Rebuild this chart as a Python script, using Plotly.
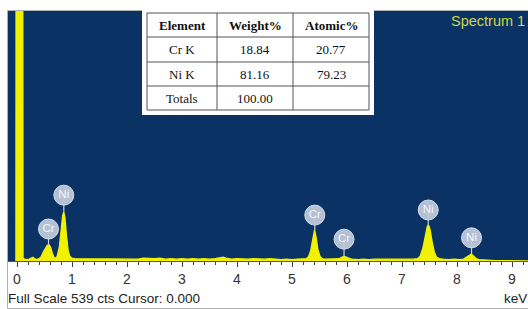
import plotly.graph_objects as go

# ---------------- data ----------------
energy_kev = [
    -0.02, -0.015, 0.025, 0.03, 0.05, 0.055, 0.10, 0.11,
    0.14, 0.18, 0.22, 0.26, 0.29, 0.32, 0.36, 0.40, 0.44, 0.48, 0.52, 0.55, 0.58,
    0.61, 0.64, 0.67, 0.70, 0.73, 0.77, 0.80, 0.83, 0.85, 0.87, 0.90, 0.93, 0.96,
    1.00, 1.05,
    1.1, 1.2, 1.3, 1.4, 1.5, 1.6, 1.7, 1.8, 1.9, 2.0, 2.1, 2.2, 2.3, 2.4, 2.5,
    2.6, 2.7, 2.8, 2.9, 3.0, 3.1, 3.2, 3.3, 3.4, 3.5, 3.6, 3.7, 3.75, 3.8, 3.9,
    4.0, 4.1, 4.2, 4.3, 4.4, 4.5, 4.6, 4.7, 4.8, 4.9, 5.0, 5.1, 5.2,
    5.26, 5.30, 5.34, 5.38, 5.41, 5.44, 5.47, 5.51, 5.55, 5.60,
    5.70, 5.80, 5.86, 5.90, 5.95, 6.00, 6.05, 6.10,
    6.2, 6.3, 6.4, 6.5, 6.6, 6.7, 6.8, 6.9, 7.0, 7.1, 7.2,
    7.28, 7.33, 7.38, 7.42, 7.46, 7.48, 7.51, 7.55, 7.59, 7.63, 7.68, 7.75,
    7.85, 7.95, 8.05,
    8.12, 8.17, 8.22, 8.26, 8.30, 8.35, 8.40,
    8.5, 8.7, 8.9, 9.1, 9.3,
]
counts = [
    0, 1200, 1200, 0, 0, 1200, 1200, 6,
    4, 3, 4, 6, 8, 5, 3, 5, 9, 20, 30, 34, 35,
    30, 18, 8, 6, 10, 30, 65, 98, 106, 95, 55, 22, 10,
    6, 5,
    5, 4, 5, 4, 5, 4, 5, 5, 4, 5, 5, 4, 6, 5, 5,
    6, 4, 5, 4, 5, 4, 5, 4, 5, 4, 5, 6, 8, 6, 4,
    5, 4, 4, 5, 4, 4, 5, 4, 3, 4, 3, 4, 4,
    5, 9, 22, 48, 67, 50, 25, 10, 5, 4,
    4, 4, 5, 8, 10, 8, 5, 4,
    3, 4, 3, 4, 4, 3, 4, 3, 4, 3, 4,
    5, 10, 28, 55, 75, 78, 68, 40, 18, 8, 5, 4,
    3, 4, 3,
    4, 8, 13, 15, 11, 5, 3,
    2, 1, 1, 0, 0,
]

peak_labels = ["Cr", "Ni", "Cr", "Cr", "Ni", "Ni"]
peak_kev = [0.573, 0.851, 5.414, 5.946, 7.477, 8.264]
peak_top_cts = [35, 106, 67, 10, 78, 15]
label_cts = [69, 142, 99, 47, 110, 50]

table_header = ["Element", "Weight%", "Atomic%"]
table_rows = [
    ["Cr K", "18.84", "20.77"],
    ["Ni K", "81.16", "79.23"],
    ["Totals", "100.00", ""],
]

spectrum_title = "Spectrum 1"
full_scale_cts = 539
cursor_kev = 0.000
x_ticks = list(range(10))

# ---------------- layout geometry (reference pixels) ----------------
W, H = 528, 309
PLOT_L, PLOT_R, PLOT_T, PLOT_B = 8, 528, 11, 261
ML, MR, MT, MB = PLOT_L, W - PLOT_R, PLOT_T, H - PLOT_B
PW = PLOT_R - PLOT_L
PH = PLOT_B - PLOT_T
X0_PX, PX_PER_KEV = 17.0, 55.0


def px_x(px):
    return (px - PLOT_L) / PW


def px_y(py):
    return (PLOT_B - py) / PH


BLUE = "#0a3265"
YELLOW = "#f2f200"

fig = go.Figure()

fig.add_trace(go.Scatter(
    x=energy_kev, y=counts, mode="lines", fill="tozeroy",
    line=dict(color=YELLOW, width=1.3), fillcolor=YELLOW,
    hoverinfo="skip", showlegend=False,
))

# stems for peak labels
stem_x, stem_y = [], []
for k, top, lab in zip(peak_kev, peak_top_cts, label_cts):
    stem_x += [k, k, None]
    stem_y += [top, lab, None]
fig.add_trace(go.Scatter(
    x=stem_x, y=stem_y, mode="lines",
    line=dict(color="#c9d1de", width=1.2),
    hoverinfo="skip", showlegend=False,
))
fig.add_trace(go.Scatter(
    x=peak_kev, y=label_cts, mode="markers+text", text=peak_labels,
    textposition="middle center",
    textfont=dict(family="Liberation Sans", size=11.5, color="#f4f6fa"),
    marker=dict(size=20, color="rgba(190,200,217,0.95)",
                line=dict(color="rgba(215,222,232,1)", width=1)),
    hoverinfo="skip", showlegend=False,
))

shapes = []
annotations = []

# outer frame (left/bottom edges)
shapes.append(dict(type="rect", xref="paper", yref="paper",
                   x0=px_x(7.5), x1=px_x(540), y0=px_y(308.5), y1=px_y(10.5),
                   line=dict(color="#b0b0b0", width=1), layer="below"))

# table background
shapes.append(dict(type="rect", xref="paper", yref="paper",
                   x0=px_x(142), x1=px_x(374), y0=px_y(115), y1=px_y(0),
                   fillcolor="white", line=dict(width=0), layer="above"))
col_edges = [147, 217, 293, 369]
row_edges = [13, 37, 62, 86, 110]
for cx in col_edges:
    shapes.append(dict(type="line", xref="paper", yref="paper",
                       x0=px_x(cx), x1=px_x(cx), y0=px_y(row_edges[0]), y1=px_y(row_edges[-1]),
                       line=dict(color="#555555", width=1), layer="above"))
for ry in row_edges:
    shapes.append(dict(type="line", xref="paper", yref="paper",
                       x0=px_x(col_edges[0]), x1=px_x(col_edges[-1]), y0=px_y(ry), y1=px_y(ry),
                       line=dict(color="#555555", width=1), layer="above"))

all_rows = [table_header] + table_rows
for r, row in enumerate(all_rows):
    yc = (row_edges[r] + row_edges[r + 1]) / 2
    for c, txt in enumerate(row):
        if not txt:
            continue
        xc = (col_edges[c] + col_edges[c + 1]) / 2
        t = f"<b>{txt}</b>" if r == 0 else txt
        annotations.append(dict(
            text=t, xref="paper", yref="paper", x=px_x(xc), y=px_y(yc),
            xanchor="center", yanchor="middle", showarrow=False,
            font=dict(family="Liberation Serif", size=13, color="#111111"),
        ))

annotations.append(dict(
    text=spectrum_title, xref="paper", yref="paper", x=px_x(527), y=px_y(20.5),
    xanchor="right", yanchor="middle", showarrow=False,
    font=dict(family="Liberation Sans", size=14.5, color="#cdd64a"),
))
annotations.append(dict(
    text=f"Full Scale {full_scale_cts} cts Cursor: {cursor_kev:.3f}",
    xref="paper", yref="paper", x=px_x(6), y=px_y(298),
    xanchor="left", yanchor="middle", showarrow=False,
    font=dict(family="Liberation Sans", size=13.5, color="#222222"),
))
annotations.append(dict(
    text="keV", xref="paper", yref="paper", x=px_x(529), y=px_y(298),
    xanchor="right", yanchor="middle", showarrow=False,
    font=dict(family="Liberation Sans", size=13.5, color="#222222"),
))

fig.update_layout(
    width=W, height=H,
    margin=dict(l=ML, r=MR, t=MT, b=MB, pad=0),
    paper_bgcolor="white", plot_bgcolor=BLUE,
    showlegend=False,
    shapes=shapes, annotations=annotations,
    xaxis=dict(
        range=[(PLOT_L - X0_PX) / PX_PER_KEV, (PLOT_R - X0_PX) / PX_PER_KEV],
        tickvals=x_ticks, ticktext=[str(v) for v in x_ticks],
        ticks="outside", ticklen=5, tickwidth=1, tickcolor="#444444",
        minor=dict(dtick=0.2, ticks="outside", ticklen=3, tickcolor="#444444", showgrid=False),
        showgrid=False, zeroline=False,
        showline=True, linecolor="#555555", linewidth=1,
        tickfont=dict(family="Liberation Sans", size=14, color="#333333"),
        fixedrange=True,
    ),
    yaxis=dict(
        range=[0, full_scale_cts], visible=False, showgrid=False, zeroline=False,
        fixedrange=True,
    ),
)

fig.write_html(
    "out.html",
    config={"displayModeBar": False},
    post_script="document.body.style.margin='0';document.body.style.overflow='hidden';",
)
